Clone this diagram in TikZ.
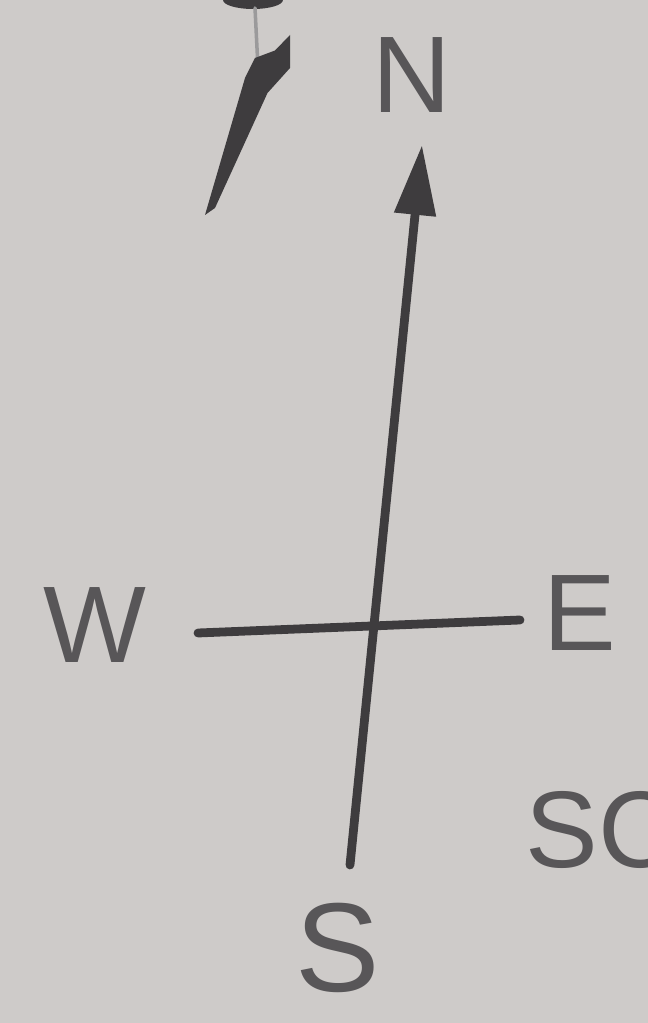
\documentclass[tikz,border=0pt]{standalone}
\usepackage{fontspec}
\setmainfont{Liberation Sans}
\usetikzlibrary{arrows.meta}
\definecolor{paper}{RGB}{206,203,201}
\definecolor{ink}{RGB}{62,60,62}
\definecolor{pencil}{RGB}{88,86,88}
\begin{document}
\begin{tikzpicture}[line join=round, line cap=round]
		\tikzset{stroke/.style={draw=ink,line width=5pt},
			lbl/.style={text=pencil,font=\fontsize{62}{62}\selectfont,inner sep=0pt}}
		\fill[paper] (0,0) rectangle (12.96,20.46);
		\clip (0,0) rectangle (12.96,20.46);
		% fragment at top
		\fill[ink] (5.06,20.46) ellipse (0.6 and 0.18);
		\draw[pencil!60,line width=2pt] (5.1,20.3) -- (5.15,19.3);
		\fill[ink] (4.1,16.16) -- (4.9,18.9) -- (5.1,19.3) -- (5.5,19.45) -- (5.8,19.76)
		-- (5.8,19.1) -- (5.35,18.6) -- (4.3,16.3) -- cycle;
		% compass
		\coordinate (nTip) at (8.44,17.56);
		\coordinate (sEnd) at (7.0,3.16);
		\coordinate (wEnd) at (3.96,7.8);
		\coordinate (eEnd) at (10.4,8.06);
		\draw[stroke,-{Triangle[length=14mm,width=8mm]}] (sEnd) -- (nTip);
		\draw[stroke] (wEnd) -- (eEnd);
		\node[lbl] (n) at (8.24,18.96) {N};
		\node[lbl] (w) at (1.9,7.96) {W};
		\node[lbl] (e) at (11.6,8.2) {E};
		\node[lbl,font=\fontsize{72}{72}\selectfont] (s) at (6.76,1.5) {S};
		\node[lbl,anchor=west] (sc) at (10.5,3.86) {SC};
\end{tikzpicture}
\end{document}
